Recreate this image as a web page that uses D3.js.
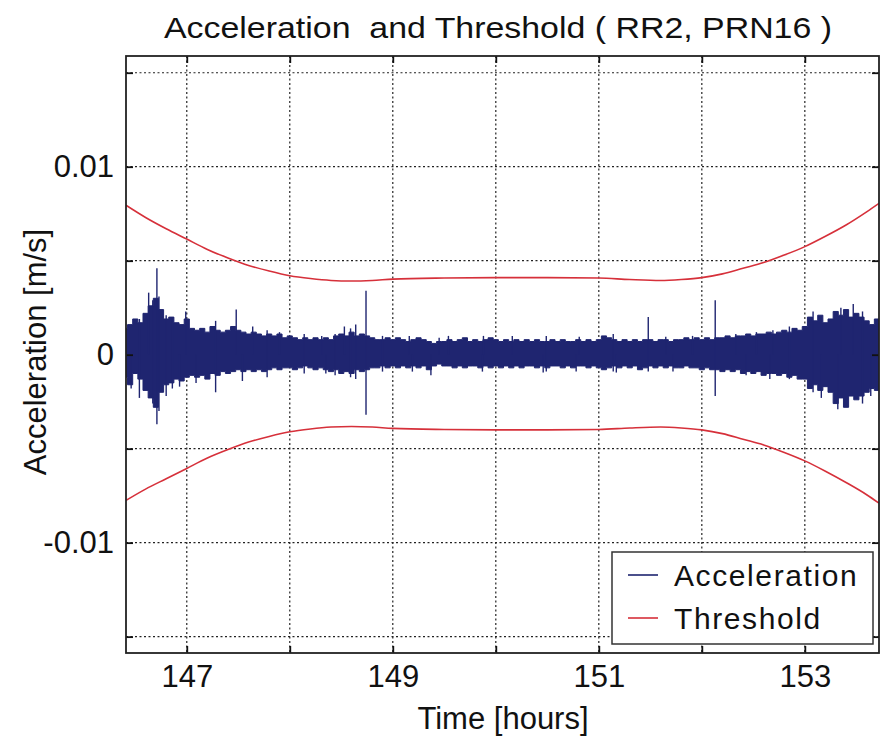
<!DOCTYPE html>
<html>
<head>
<meta charset="utf-8">
<script src="https://cdn.jsdelivr.net/npm/d3@7"></script>
<style>
  body { margin: 0; background: #fff; }
  text { font-family: "Liberation Sans", Arial, sans-serif; fill: #111; }
</style>
</head>
<body>
<div id="chart"></div>
<script>
// ---- data ----------------------------------------------------------------

// acceleration band, sampled every 0.05 h from 146.40 h, values in 1e-3 m/s
const accStart = 146.40;
const accStep = 0.05;
const accUpper = [
  1.4,1.6,1.9,1.7,2.2,2.6,3.0,2.4,1.9,2.0,
  1.7,1.6,1.9,1.4,1.3,1.4,1.2,1.5,1.3,1.2,
  1.3,1.5,1.3,1.2,1.1,1.2,1.1,1.0,1.1,1.0,
  1.1,0.9,1.0,0.9,0.8,0.9,0.8,0.9,0.8,0.9,
  0.8,1.0,1.1,1.0,1.2,1.0,1.1,1.0,0.9,0.8,
  0.8,0.9,0.8,0.9,0.8,0.7,0.8,0.9,0.8,0.7,
  0.6,0.7,0.7,0.8,0.7,0.8,0.9,0.7,0.8,0.7,
  0.8,0.9,0.8,0.7,0.8,0.7,0.8,0.7,0.8,0.7,
  0.8,0.7,0.7,0.8,0.7,0.8,0.7,0.7,0.8,0.7,
  0.8,0.7,0.8,1.0,0.9,0.8,0.7,0.8,0.7,0.8,
  0.7,0.8,0.8,0.7,0.8,0.8,0.7,0.8,0.8,0.9,
  0.8,0.9,0.8,0.9,0.8,0.9,0.9,1.0,0.9,1.0,
  1.0,1.1,1.0,1.1,1.1,1.2,1.1,1.2,1.3,1.2,
  1.4,1.3,1.5,2.0,1.8,2.1,1.7,1.9,2.3,2.1,
  2.4,2.0,2.2,2.0,1.8,1.6,1.9,1.7
];
const accLower = [
  -1.2,-1.6,-1.0,-1.3,-1.9,-2.3,-2.8,-2.0,-1.6,-1.5,
  -1.3,-1.4,-1.2,-1.1,-1.2,-1.1,-1.3,-1.0,-1.1,-0.9,
  -1.0,-0.9,-0.8,-0.9,-0.8,-0.9,-0.8,-0.9,-0.8,-0.7,
  -0.8,-0.7,-0.7,-0.8,-0.7,-0.6,-0.7,-0.8,-0.7,-0.8,
  -0.9,-0.8,-1.0,-0.9,-1.0,-0.8,-0.9,-0.8,-0.7,-0.7,
  -0.6,-0.7,-0.6,-0.7,-0.6,-0.7,-0.6,-0.7,-0.6,-0.8,
  -0.6,-0.5,-0.6,-0.6,-0.7,-0.6,-0.7,-0.6,-0.6,-0.7,
  -0.6,-0.7,-0.6,-0.7,-0.6,-0.7,-0.6,-0.7,-0.6,-0.6,
  -0.7,-0.6,-0.7,-0.6,-0.6,-0.7,-0.6,-0.7,-0.6,-0.6,
  -0.7,-0.6,-0.7,-0.8,-0.7,-0.6,-0.7,-0.6,-0.7,-0.6,
  -0.8,-0.7,-0.6,-0.7,-0.6,-0.7,-0.6,-0.7,-0.7,-0.6,
  -0.7,-0.7,-0.8,-0.7,-0.8,-0.8,-0.9,-0.8,-0.9,-0.8,
  -1.0,-0.9,-1.0,-0.9,-1.1,-1.0,-1.0,-1.1,-1.0,-1.2,
  -1.1,-1.3,-1.3,-1.8,-1.6,-1.9,-1.7,-2.0,-2.6,-2.3,
  -2.8,-2.2,-2.4,-2.2,-2.0,-1.8,-1.9,-1.6
];

// single spikes sticking out of the band: [time h, top, bottom] in 1e-3 m/s
const accSpikes = [
  [146.46, 0, -1.8], [146.54, 1.9, -2.3], [146.63, 3.3, 0], [146.67, 2.9, -2.6],
  [146.71, 4.6, -3.7], [146.73, 3.1, -3.0], [146.80, 2.1, -2.2], [146.86, 2.0, -1.8],
  [146.93, 0, -1.7], [146.99, 2.3, 0], [147.09, 0, -1.5], [147.28, 1.8, -2.0],
  [147.48, 2.4, 0], [147.54, 0, -1.4], [147.64, 1.5, 0], [147.78, 1.3, -1.2],
  [147.90, 1.2, 0], [148.14, 1.1, -1.0], [148.31, 1.0, 0], [148.35, 0, -1.0],
  [148.44, 1.1, -1.1], [148.53, 1.5, 0], [148.59, 1.4, -1.2], [148.64, 1.6, -1.3],
  [148.74, 3.4, -3.2], [148.90, 1.0, -0.9], [149.16, 1.0, 0], [149.19, 0, -0.9],
  [149.37, 0, -1.1], [149.45, 0.9, 0], [149.54, 1.0, 0], [149.87, 0, -0.9],
  [149.88, 1.0, 0], [150.16, 1.0, 0], [150.46, 0, -0.95], [150.49, 1.0, -0.9],
  [150.78, 0, -0.9], [150.81, 0.95, 0], [151.14, 1.1, -0.9], [151.17, 0, -0.95],
  [151.48, 2.0, -0.9], [151.65, 0.95, 0], [151.72, 0, -0.9], [151.91, 1.0, 0],
  [152.13, 2.9, -2.2], [152.33, 1.1, 0], [152.43, 0, -1.1], [152.53, 1.2, 0],
  [152.66, 0, -1.3], [152.69, 1.3, 0], [152.85, 1.5, -1.3], [153.08, 2.3, -2.0],
  [153.16, 0, -2.3], [153.32, 0, -2.9], [153.35, 2.5, 0], [153.47, 2.7, 0],
  [153.56, 2.3, -2.6], [153.64, 0, -2.2]
];

// threshold curves, values in 1e-3 m/s
const thrTime = [146.41, 146.6, 146.8, 147.0, 147.2, 147.4, 147.6, 147.8, 148.0, 148.2,
  148.4, 148.6, 148.8, 149.0, 149.5, 150.0, 150.5, 151.0, 151.3, 151.6, 151.8, 152.0,
  152.2, 152.4, 152.6, 152.8, 153.0, 153.2, 153.4, 153.6, 153.72];
const thrUpper = [7.95, 7.3, 6.7, 6.15, 5.6, 5.15, 4.75, 4.45, 4.2, 4.05,
  3.95, 3.92, 3.95, 4.02, 4.08, 4.1, 4.1, 4.08, 4.0, 3.95, 4.0, 4.1,
  4.3, 4.6, 4.9, 5.3, 5.75, 6.3, 6.9, 7.6, 8.05];
const thrLower = [-7.75, -7.15, -6.6, -6.05, -5.5, -5.05, -4.65, -4.35, -4.1, -3.95,
  -3.85, -3.82, -3.85, -3.92, -3.98, -4.0, -4.0, -3.98, -3.9, -3.85, -3.9, -4.0,
  -4.2, -4.5, -4.8, -5.2, -5.65, -6.2, -6.8, -7.45, -7.9];

const xTicks = [147, 148, 149, 150, 151, 152, 153];
const xLabels = [147, 149, 151, 153];
const yTicks = [-0.015, -0.01, -0.005, 0, 0.005, 0.01, 0.015];
const yLabels = { '-0.01': '-0.01', '0': '0', '0.01': '0.01' };

const seriesNames = ['Acceleration', 'Threshold'];

// ---- layout ---------------------------------------------------------------
const width = 885, height = 740;
const mLeft = 126, mRight = 879, mTop = 56, mBottom = 653;
const accColor = '#1f2570';
const thrColor = '#d6303a';

const x = d3.scaleLinear().domain([146.41, 153.72]).range([mLeft, mRight]);
const y = d3.scaleLinear().domain([-0.01587, 0.01589]).range([mBottom, mTop]);
const milli = v => v * 1e-3;

const svg = d3.select('#chart').append('svg')
  .attr('width', width)
  .attr('height', height)
  .attr('viewBox', [0, 0, width, height]);

svg.append('rect').attr('width', width).attr('height', height).attr('fill', '#fff');

svg.append('clipPath').attr('id', 'plot-clip')
  .append('rect').attr('x', mLeft).attr('y', mTop).attr('width', mRight - mLeft).attr('height', mBottom - mTop);

// grid
const grid = svg.append('g').attr('stroke', '#222').attr('stroke-width', 1.2).attr('stroke-dasharray', '2,2.5');
grid.selectAll('line.gx').data(xTicks).join('line')
  .attr('x1', d => x(d)).attr('x2', d => x(d)).attr('y1', mTop).attr('y2', mBottom);
grid.selectAll('line.gy').data(yTicks).join('line')
  .attr('x1', mLeft).attr('x2', mRight).attr('y1', d => y(d)).attr('y2', d => y(d));

const plot = svg.append('g').attr('clip-path', 'url(#plot-clip)');

// acceleration band
const band = accUpper.map((v, i) => ({ t: accStart + i * accStep, hi: milli(v), lo: milli(accLower[i]) }));
plot.append('path')
  .datum(band)
  .attr('d', d3.area().x(d => x(d.t)).y0(d => y(d.lo)).y1(d => y(d.hi)).curve(d3.curveStep))
  .attr('fill', accColor)
  .attr('stroke', accColor)
  .attr('stroke-width', 1);

plot.append('g').selectAll('line').data(accSpikes).join('line')
  .attr('x1', d => x(d[0])).attr('x2', d => x(d[0]))
  .attr('y1', d => y(milli(d[1]))).attr('y2', d => y(milli(d[2])))
  .attr('stroke', accColor).attr('stroke-width', 1.4);

// thresholds
const thrLine = d3.line().x(d => x(d[0])).y(d => y(milli(d[1]))).curve(d3.curveMonotoneX);
[thrUpper, thrLower].forEach(vals => {
  plot.append('path')
    .datum(thrTime.map((t, i) => [t, vals[i]]))
    .attr('d', thrLine)
    .attr('fill', 'none')
    .attr('stroke', thrColor)
    .attr('stroke-width', 1.6);
});

// axes with inward ticks
const fontSize = 31;
const axB = svg.append('g').attr('transform', `translate(0,${mBottom})`)
  .call(d3.axisBottom(x).tickValues(xTicks).tickSizeInner(-7).tickSizeOuter(0).tickPadding(12)
    .tickFormat(d => xLabels.includes(d) ? d : ''));
const axT = svg.append('g').attr('transform', `translate(0,${mTop})`)
  .call(d3.axisTop(x).tickValues(xTicks).tickSizeInner(-7).tickSizeOuter(0).tickFormat(''));
const axL = svg.append('g').attr('transform', `translate(${mLeft},0)`)
  .call(d3.axisLeft(y).tickValues(yTicks).tickSizeInner(-7).tickSizeOuter(0).tickPadding(12)
    .tickFormat(d => yLabels[String(+d.toFixed(3))] || ''));
const axR = svg.append('g').attr('transform', `translate(${mRight},0)`)
  .call(d3.axisRight(y).tickValues(yTicks).tickSizeInner(-7).tickSizeOuter(0).tickFormat(''));

[axB, axT, axL, axR].forEach(a => {
  a.select('.domain').remove();
  a.selectAll('.tick line').attr('stroke', '#111').attr('stroke-width', 1.8);
  a.selectAll('text').attr('font-size', fontSize).attr('font-family', '"Liberation Sans", Arial, sans-serif').attr('fill', '#111');
});

// frame
svg.append('rect')
  .attr('x', mLeft).attr('y', mTop).attr('width', mRight - mLeft).attr('height', mBottom - mTop)
  .attr('fill', 'none').attr('stroke', '#222').attr('stroke-width', 1.8);

// titles
svg.append('text')
  .attr('x', 498).attr('y', 38)
  .attr('text-anchor', 'middle')
  .attr('font-size', 30)
  .style('white-space', 'pre')
  .attr('textLength', 668).attr('lengthAdjust', 'spacingAndGlyphs')
  .text('Acceleration  and Threshold ( RR2, PRN16 )');

svg.append('text')
  .attr('x', 503).attr('y', 729)
  .attr('text-anchor', 'middle')
  .attr('font-size', 31)
  .text('Time [hours]');

svg.append('text')
  .attr('transform', 'translate(46,352) rotate(-90)')
  .attr('text-anchor', 'middle')
  .attr('font-size', 31)
  .text('Acceleration [m/s]');

// legend
const legend = svg.append('g').attr('transform', 'translate(612,552)');
legend.append('rect').attr('width', 261).attr('height', 92)
  .attr('fill', '#fff').attr('stroke', '#333').attr('stroke-width', 1.5);
legend.selectAll('g.item').data(seriesNames).join('g')
  .attr('transform', (d, i) => `translate(0,${23 + i * 43})`)
  .each(function (d, i) {
    const g = d3.select(this);
    g.append('line').attr('x1', 16).attr('x2', 46)
      .attr('stroke', i === 0 ? accColor : thrColor).attr('stroke-width', 1.6);
    g.append('text').attr('x', 62).attr('y', 11)
      .attr('font-size', 30).attr('letter-spacing', 1.6)
      .text(d);
  });
</script>
</body>
</html>
